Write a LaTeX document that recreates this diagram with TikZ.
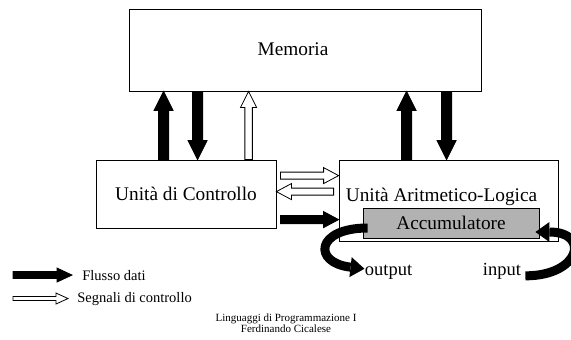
\documentclass[tikz,border=0pt]{standalone}
\usepackage{fontspec}
\setmainfont{Liberation Serif}
\usetikzlibrary{arrows.meta,calc}
\tikzset{
    cpu diagram/.style = {x=1pt, y=-1pt, line width=0.8pt},
    box/.style         = {draw, fill=white, inner sep=0pt},
    title/.style       = {font=\fontsize{19.3}{23}\selectfont, inner sep=0pt},
    tag/.style         = {font=\fontsize{18.5}{22}\selectfont, inner sep=0pt,
                          anchor=base},
    keytext/.style     = {font=\fontsize{14.5}{17}\selectfont, inner sep=0pt,
                          anchor=base west},
    foot/.style        = {font=\fontsize{11}{10.5}\selectfont, inner sep=0pt,
                          align=center},
    % straight block arrow: shaft width / head width / head length
    block arrow/.style args = {#1/#2/#3}{to path={
        let \p1=(\tikztostart), \p2=(\tikztotarget),
            \n1={atan2(\y2-\y1,\x2-\x1)}, \n2={veclen(\x2-\x1,\y2-\y1)} in
        ($(\p1)+({\n1+90}:{#1/2})$)
        -- ($(\p1)+({\n1}:{\n2-#3})+({\n1+90}:{#1/2})$)
        -- ($(\p1)+({\n1}:{\n2-#3})+({\n1+90}:{#2/2})$)
        -- (\p2)
        -- ($(\p1)+({\n1}:{\n2-#3})+({\n1-90}:{#2/2})$)
        -- ($(\p1)+({\n1}:{\n2-#3})+({\n1-90}:{#1/2})$)
        -- ($(\p1)+({\n1-90}:{#1/2})$) -- cycle}},
    data/.style        = {draw, fill=black, line join=miter, block arrow=#1},
    data/.default      = 10pt/19pt/19pt,
    signal/.style      = {draw, fill=white, line join=miter, block arrow=#1},
    signal/.default    = 7.5pt/16pt/16pt,
    accflow/.style     = {line width=9pt,
                          -{Triangle[length=14pt, width=20pt, line width=0pt]}}
}

\begin{document}
\begin{tikzpicture}[cpu diagram]
\useasboundingbox (0,0) rectangle (571,340);

% memory, control unit and ALU with its accumulator
\node[box, minimum width=352, minimum height=82] (mem) at (305,50) {};
\node[title, anchor=base] (memtitle) at (293,55) {Memoria};
\node[box, title, minimum width=180, minimum height=68] (ctrl)
  at (186,194) {Unità di Controllo};
\node[box, minimum width=219, minimum height=81] (alu) at (448.5,200.5) {};
\node[title, anchor=base] (alutitle) at (441.5,201) {Unità Aritmetico-Logica};
\node[box, title, fill=black!30, minimum width=176, minimum height=30] (acc)
  at (451,223) {Accumulatore};

% memory bus
\coordinate (cup)  at ($(ctrl.north west)+(68,0)$);
\coordinate (cdn)  at ($(ctrl.north west)+(102,0)$);
\coordinate (csig) at ($(ctrl.north west)+(153,0)$);
\coordinate (aup)  at ($(alu.north west)+(68,0)$);
\coordinate (adn)  at ($(alu.north west)+(108,0)$);
\draw[data]   (cup) to (cup |- mem.south);
\draw[data]   (cdn |- mem.south) to (cdn);
\draw[signal] (csig) to (csig |- mem.south);
\draw[data]   (aup) to (aup |- mem.south);
\draw[data]   (adn |- mem.south) to (adn);

% control unit <-> ALU
\coordinate (sig1) at ($(ctrl.north east)+(4,16)$);
\coordinate (sig2) at ($(alu.north west)+(-5,32)$);
\coordinate (dat1) at ($(ctrl.north east)+(4,60)$);
\draw[signal=7pt/16pt/15pt] (sig1) to (sig1 -| alu.west);
\draw[signal=7pt/16pt/15pt] (sig2) to (sig2 -| ctrl.east);
\draw[data=8pt/16pt/15pt]   (dat1) to (dat1 -| alu.west);

% accumulator output and input
\node[tag] (outtxt) at (388.5,275) {output};
\node[tag] (intxt) at (502,275) {input};
\draw[accflow] ($(acc.west)+(5,5)$)
  .. controls +(-52,0) and +(-52,-6) .. ([yshift=3]outtxt.west);
\draw[accflow] ($(intxt.east)+(4,5)$)
  .. controls +(55,0) and +(55,0) .. ($(acc.east)+(-4,9)$);

% legend
\node[keytext] (flow) at (82,280) {Flusso dati};
\node[keytext] (ctrlsig) at (77,302) {Segnali di controllo};
\coordinate (flowtail) at ($(flow.west)+(-69,0)$);
\coordinate (sigtail) at ($(ctrlsig.west)+(-64,0)$);
\draw[data=7pt/14pt/15pt]  (flowtail) to ([xshift=-10pt]flow.west);
\draw[signal=4pt/11pt/12pt] (sigtail) to ([xshift=-9pt]ctrlsig.west);

\node[foot] (credits) at (286,323.4)
  {Linguaggi di Programmazione I\\Ferdinando Cicalese};
\end{tikzpicture}
\end{document}
